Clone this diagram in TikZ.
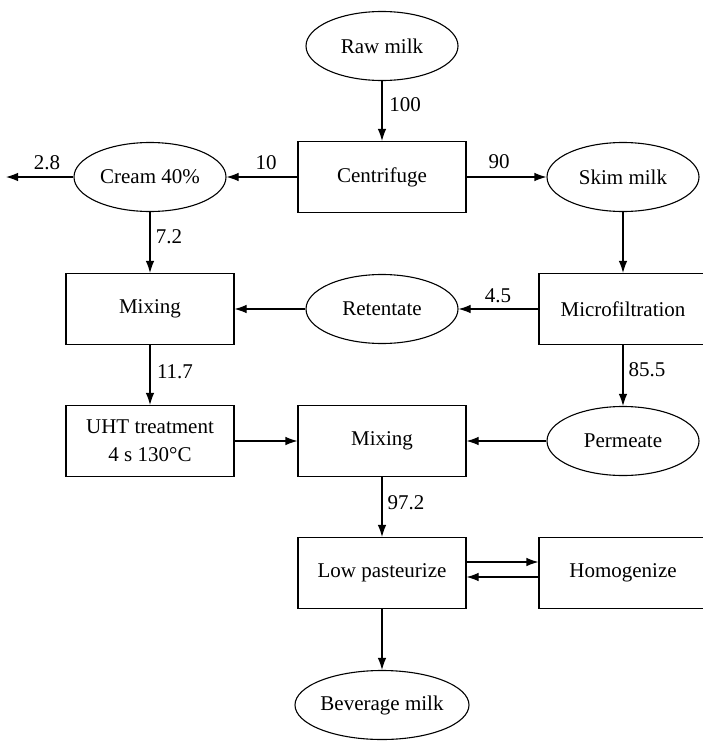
\documentclass[tikz,border=0pt]{standalone}
\usepackage{fontspec}
\setmainfont{Liberation Serif}
\usetikzlibrary{shapes.geometric,arrows.meta}
\begin{document}
\begin{tikzpicture}[x=1pt,y=-1pt,
  every node/.style={font=\fontsize{21}{25}\selectfont},
  oval/.style={draw,ellipse,line width=1.1pt,minimum width=152pt,minimum height=69pt,inner sep=0pt},
  proc/.style={draw,rectangle,line width=1.1pt,minimum width=168pt,minimum height=71pt,inner sep=0pt,align=center},
  flow/.style={line width=1.1pt,-{Latex[length=12pt,width=8.5pt]}},
  qty/.style={inner sep=0pt}]
\useasboundingbox (0,0) rectangle (702,742);
% nodes
\node[oval] (raw) at (382,46) {Raw milk};
\node[proc] (cent) at (382,177) {Centrifuge};
\node[oval] (cream) at (150,177) {Cream 40\%};
\node[oval] (skim) at (623,177) {Skim milk};
\node[proc] (mix1) at (150,309) {Mixing};
\node[oval] (ret) at (382,309) {Retentate};
\node[proc] (micro) at (623,309) {Microfiltration};
\node[proc,font=\fontsize{21}{28}\selectfont] (uht) at (150,441) {UHT treatment\\4 s 130°C};
\node[proc] (mix2) at (382,441) {Mixing};
\node[oval] (perm) at (623,441) {Permeate};
\node[proc] (lowp) at (382,573) {Low pasteurize};
\node[proc] (homog) at (623,573) {Homogenize};
\node[oval] (bev) at (382,705) {Beverage milk};
\coordinate (out) at (6,177);
% connectors
\draw[flow] (raw) -- (cent);
\draw[flow] (cent) -- (cream);
\draw[flow] (cream) -- (out);
\draw[flow] (cent) -- (skim);
\draw[flow] (skim) -- (micro);
\draw[flow] (cream) -- (mix1);
\draw[flow] (micro) -- (ret);
\draw[flow] (ret) -- (mix1);
\draw[flow] (mix1) -- (uht);
\draw[flow] (micro) -- (perm);
\draw[flow] (uht.east |- mix2) -- (mix2);
\draw[flow] (perm) -- (mix2);
\draw[flow] (mix2) -- (lowp);
\draw[flow] ([yshift=11pt]lowp.east) -- ([yshift=11pt]homog.west);
\draw[flow] ([yshift=-4pt]homog.west) -- ([yshift=-4pt]lowp.east);
\draw[flow] (lowp) -- (bev);
% quantities
\node[qty] (q100) at (405,105) {100};
\node[qty] (q10) at (266,163) {10};
\node[qty] (q28) at (47,163) {2.8};
\node[qty] (q90) at (499,162) {90};
\node[qty] (q72) at (169,237) {7.2};
\node[qty] (q45) at (498,296) {4.5};
\node[qty] (q117) at (175,372) {11.7};
\node[qty] (q855) at (647,370) {85.5};
\node[qty] (q972) at (406,503) {97.2};
\end{tikzpicture}
\end{document}
